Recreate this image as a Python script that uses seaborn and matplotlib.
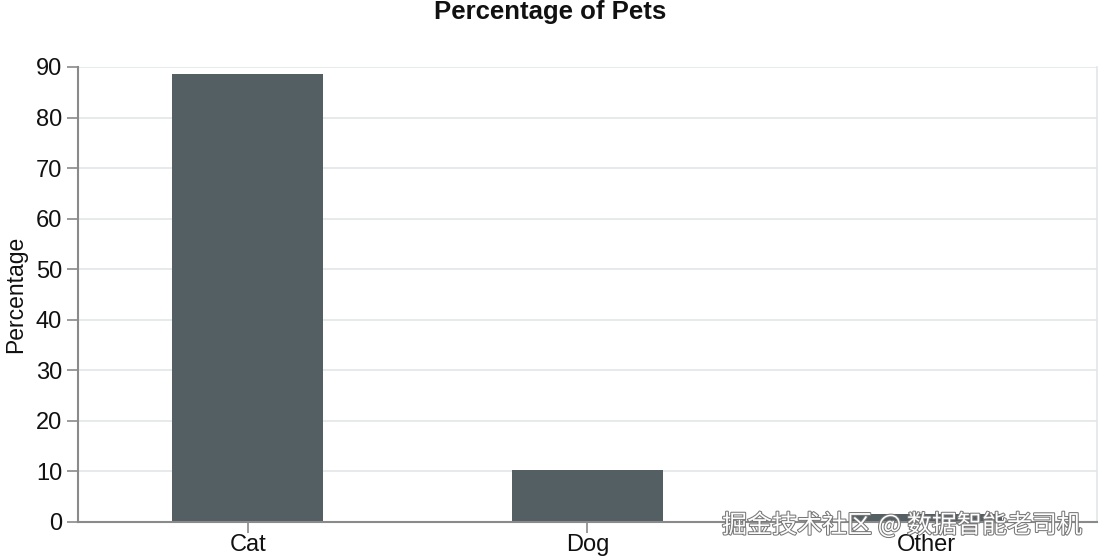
import seaborn as sns
import pandas as pd
import matplotlib.pyplot as plt
import matplotlib.patheffects as pe

pets = ['Cat', 'Dog', 'Other']
percentages = [88.7, 10.3, 1.5]
y_ticks = [0, 10, 20, 30, 40, 50, 60, 70, 80, 90]

df = pd.DataFrame({'Pet': pets, 'Percentage': percentages})

sns.set_theme(style='white')
plt.rcParams['font.family'] = ['Liberation Sans', 'DejaVu Sans']

fig = plt.figure(figsize=(11, 5.56), dpi=100)
ax = fig.add_axes([0.0709, 0.0612, 0.9261, 0.8183])

sns.barplot(data=df, x='Pet', y='Percentage', color='#535f63', saturation=1,
            width=0.445, linewidth=0, ax=ax)

ax.set_xlim(-0.5, 2.5)
ax.set_ylim(0, 90)
ax.set_yticks(y_ticks)
ax.yaxis.grid(True, color='#e3e6e8', linewidth=1.2)
ax.set_axisbelow(True)

for side in ['left', 'bottom']:
    ax.spines[side].set_color('#8a8a8a')
    ax.spines[side].set_linewidth(1.5)
ax.spines['top'].set_visible(False)
ax.spines['right'].set_color('#e3e6e8')
ax.spines['right'].set_linewidth(1.2)

ax.tick_params(axis='both', colors='#8a8a8a', length=8, width=1.2,
               labelsize=17, labelcolor='#111111', bottom=True, left=True)
ax.tick_params(axis='x', pad=1)
ax.set_xlabel('')
ax.set_ylabel('Percentage', fontsize=16.5, color='#111111', labelpad=6)
fig.text(0.5, 0.978, 'Percentage of Pets', ha='center', va='center',
         fontsize=18.5, fontweight='bold', color='#111111')

fig.text(0.82, 0.055, '掘金技术社区 @ 数据智能老司机', ha='center', va='center',
         fontsize=18, color='white', family=['Noto Sans CJK SC', 'DejaVu Sans'],
         path_effects=[pe.withStroke(linewidth=1.5, foreground='#777777')])

fig.savefig('out.png', dpi=100)
